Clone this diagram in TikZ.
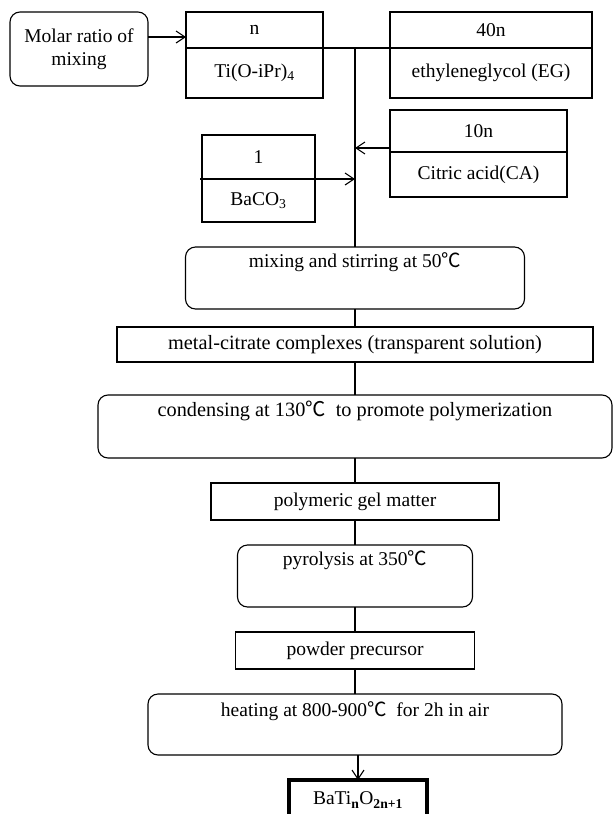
\documentclass[tikz,border=0pt]{standalone}
\usepackage{fontspec}
\setmainfont{Liberation Serif}
\newfontfamily\cjk{Noto Sans CJK SC}
\usepackage{tikz}
\usetikzlibrary{arrows.meta}
\newcommand{\degC}{{\cjk ℃}}

\begin{document}
\begin{tikzpicture}[x=1pt, y=-1pt,
    every node/.style={font=\fontsize{19.5}{23}\selectfont, inner sep=0pt, outer sep=0pt},
    cell/.style={draw, line width=1.1pt},
    roundbox/.style={draw, line width=1.1pt, rounded corners=10pt, align=center},
    plainbox/.style={draw, line width=1.1pt},
    endbox/.style={draw, line width=3.2pt},
    line/.style={line width=1.1pt},
    flow/.style={line width=1.1pt, -{Straight Barb[length=9pt,width=12pt]}}]
    \useasboundingbox (0,0) rectangle (614,814);

    \node[roundbox, minimum width=138pt, minimum height=74pt] (molar) at (79,49) {Molar ratio of\\mixing};
    \node[cell, minimum width=137pt, minimum height=36pt] (nTop) at (254.5,30) {n};
    \node[cell, minimum width=137pt, minimum height=50pt] (nBot) at (254.5,73) {Ti(O-iPr)\textsubscript{4}};
    \node[cell, minimum width=202pt, minimum height=36pt] (egTop) at (491,30) {40n};
    \node[cell, minimum width=202pt, minimum height=50pt] (egBot) at (491,73) {ethyleneglycol (EG)};
    \node[cell, minimum width=177pt, minimum height=42pt] (caTop) at (478.5,131) {10n};
    \node[cell, minimum width=177pt, minimum height=45pt] (caBot) at (478.5,174.5) {Citric acid(CA)};
    \node[cell, minimum width=113pt, minimum height=44pt] (baTop) at (258.5,157) {1};
    \node[cell, minimum width=113pt, minimum height=43pt] (baBot) at (258.5,200.5) {BaCO\textsubscript{3}};
    \coordinate (jn) at (355,48);

    \node[roundbox, minimum width=339pt, minimum height=62pt] (mix) at (355,278) {mixing and stirring at 50\degC\\[6pt]\strut};
    \node[plainbox, minimum width=476pt, minimum height=35pt, font=\fontsize{20.3}{23}\selectfont] (metal) at (355,344.5) {metal-citrate complexes (transparent solution)};
    \node[roundbox, minimum width=514pt, minimum height=63pt, font=\fontsize{20.3}{23}\selectfont] (cond) at (355,426.5) {condensing at 130\degC\ \ to promote polymerization\\[6pt]\strut};
    \node[plainbox, minimum width=288pt, minimum height=37pt] (poly) at (355,501.5) {polymeric gel matter};
    \node[roundbox, minimum width=235pt, minimum height=62pt] (pyro) at (355,576) {pyrolysis at 350\degC\\[6pt]\strut};
    \node[plainbox, minimum width=239pt, minimum height=37pt] (powder) at (355,650.5) {powder precursor};
    \node[roundbox, minimum width=414pt, minimum height=61pt] (heat) at (355,724.5) {heating at 800-900\degC\ \ for 2h in air\\\strut};
    \node[endbox, minimum width=138pt, minimum height=40pt] (final) at (358,800) {BaTi\textsubscript{\textbf{n}}O\textsubscript{\textbf{2n+1}}};

    \draw[flow] (molar.east |- 0,37) -- (nTop.west |- 0,37);
    \draw[line] (nTop.south east) -- (egTop.south west);
    \draw[line] (jn) -- (jn |- mix.north);
    \draw[flow] (caTop.west |- 0,148) -- (jn |- 0,148);
    \draw[flow] ([xshift=-2pt]baTop.south west) -- (jn |- baTop.south);
    \path[line] (mix) edge (metal);
    \path[line] (metal) edge (cond);
    \path[line] (cond) edge (poly);
    \path[line] (poly) edge (pyro);
    \path[line] (pyro) edge (powder);
    \path[line] (powder) edge (heat);
    \draw[flow] (heat.south -| final) -- (final.north);
\end{tikzpicture}
\end{document}
